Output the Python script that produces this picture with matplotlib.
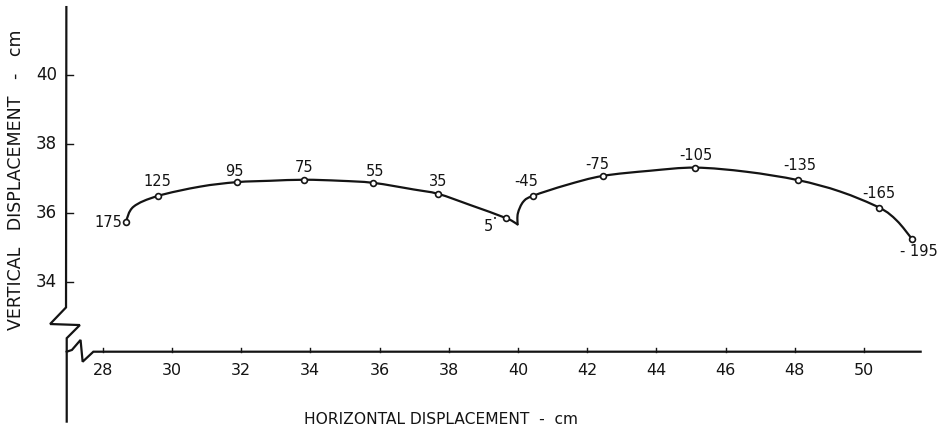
import matplotlib
matplotlib.use("Agg")
import matplotlib.pyplot as plt
from matplotlib.path import Path
from matplotlib.patches import PathPatch

# ---- data (cm) ----
point_labels = ["175", "125", "95", "75", "55", "35", "5",
                "-45", "-75", "-105", "-135", "-165", "- 195"]
point_x = [28.67, 29.59, 31.87, 33.83, 35.82, 37.70, 39.66,
           40.45, 42.45, 45.13, 48.09, 50.45, 51.38]
point_y = [35.76, 36.50, 36.90, 36.97, 36.88, 36.56, 35.86,
           36.51, 37.08, 37.32, 36.96, 36.16, 35.27]

# traced path of the curve (first arc, ends at the cusp)
arc1_x = [28.67, 28.89, 29.59, 30.81, 31.87, 32.84,
          33.83, 34.86, 35.82, 36.98, 37.70, 38.62, 39.66, 39.99]
arc1_y = [35.76, 36.19, 36.50, 36.77, 36.90, 36.94,
          36.97, 36.94, 36.88, 36.69, 36.56, 36.24, 35.86, 35.68]
# second arc, starts at the cusp
arc2_x = [39.99, 40.00, 40.16, 40.45, 41.41, 42.45, 43.82,
          45.13, 46.61, 48.09, 49.31, 50.45, 50.95, 51.38]
arc2_y = [35.68, 36.00, 36.34, 36.51, 36.82, 37.08, 37.23,
          37.32, 37.20, 36.96, 36.63, 36.16, 35.79, 35.27]

x_ticks = [28, 30, 32, 34, 36, 38, 40, 42, 44, 46, 48, 50]
y_ticks = [34, 36, 38, 40]

# ---- layout ----
W, H, DPI = 938, 429, 100
PX = 34.6                      # pixels per cm
X0PX, Y0PX = 102.7, 213.3      # pixel of x=28 / y=36
xlim = (28 - X0PX / PX, 28 + (W - X0PX) / PX)
ylim = (36 - (H - Y0PX) / PX, 36 + Y0PX / PX)

# label offsets in pixels (dx, dy up), alignment
label_off = [(-4, -1, "right"), (0, 14, "center"), (-2, 11, "center"),
             (0, 12, "center"), (2, 11, "center"), (0, 12, "center"),
             (-18, -8, "center"), (-7, 14, "center"), (-5, 11, "center"),
             (0, 12, "center"), (2, 15, "center"), (-1, 14, "center"),
             (7, -13, "center")]

ink = "#141414"
plt.rcParams["font.family"] = ["DejaVu Sans"]


def smooth_path(xs, ys):
    """Cubic Bezier path passing through the traced points (Catmull-Rom)."""
    pts = list(zip(xs, ys))
    n = len(pts)
    verts = [pts[0]]
    codes = [Path.MOVETO]
    for i in range(n - 1):
        p0 = pts[i - 1] if i > 0 else pts[i]
        p1 = pts[i]
        p2 = pts[i + 1]
        p3 = pts[i + 2] if i + 2 < n else pts[i + 1]
        c1 = (p1[0] + (p2[0] - p0[0]) / 6, p1[1] + (p2[1] - p0[1]) / 6)
        c2 = (p2[0] - (p3[0] - p1[0]) / 6, p2[1] - (p3[1] - p1[1]) / 6)
        verts += [c1, c2, p2]
        codes += [Path.CURVE4] * 3
    return Path(verts, codes)


fig = plt.figure(figsize=(W / DPI, H / DPI), dpi=DPI)
ax = fig.add_axes([0, 0, 1, 1])
ax.set_xlim(*xlim)
ax.set_ylim(*ylim)
ax.axis("off")

lw_axis = 1.6
yax_x = 26.95
xax_y = 32.0
# y axis with break
ax.plot([yax_x, 26.94, 26.48, 27.34, 26.96, 26.96],
        [41.96, 33.28, 32.80, 32.77, 32.39, 29.98],
        color=ink, lw=lw_axis, solid_joinstyle="miter")
# x axis with break
ax.plot([26.96, 27.11, 27.36, 27.42, 27.73, 51.64],
        [xax_y, 32.05, 32.34, 31.71, xax_y, xax_y],
        color=ink, lw=lw_axis, solid_joinstyle="miter")

# ticks
for t in x_ticks:
    ax.plot([t, t], [xax_y, xax_y + 0.12], color=ink, lw=1.0)
    ax.text(t, xax_y - 0.55, str(t), ha="center", va="center",
            fontsize=11.5, color=ink)
for t in y_ticks:
    ax.plot([yax_x, yax_x + 0.2], [t, t], color=ink, lw=1.0)
    ax.text(yax_x - 0.27, t, str(t), ha="right", va="center",
            fontsize=12, color=ink)

# curve
for xs, ys in ((arc1_x, arc1_y), (arc2_x, arc2_y)):
    ax.add_patch(PathPatch(smooth_path(xs, ys), fill=False, edgecolor=ink,
                           lw=1.6, capstyle="round"))
ax.plot(point_x, point_y, linestyle="none", marker="o", ms=4.2,
        mfc="white", mec=ink, mew=1.2, zorder=3)

for lab, px_, py_, (dx, dy, ha) in zip(point_labels, point_x, point_y, label_off):
    ax.annotate(lab, (px_, py_), xytext=(dx, dy), textcoords="offset pixels",
                ha=ha, va="center", fontsize=10.5, color=ink)
# degree-like dot after the 5
ax.annotate("•", (point_x[6], point_y[6]), xytext=(-11, -1),
            textcoords="offset pixels", ha="center", va="center",
            fontsize=5, color=ink)

# axis titles
ax.text(28 + (441 - X0PX) / PX, 36 - (420 - Y0PX) / PX,
        "HORIZONTAL DISPLACEMENT  -  cm", ha="center", va="center",
        fontsize=11.2, color=ink)
ax.text(28 + (16 - X0PX) / PX, 36 - (180 - Y0PX) / PX,
        "VERTICAL   DISPLACEMENT   -   cm", ha="center", va="center",
        rotation=90, fontsize=12.5, color=ink)

fig.savefig("out.png", dpi=DPI, facecolor="white")
